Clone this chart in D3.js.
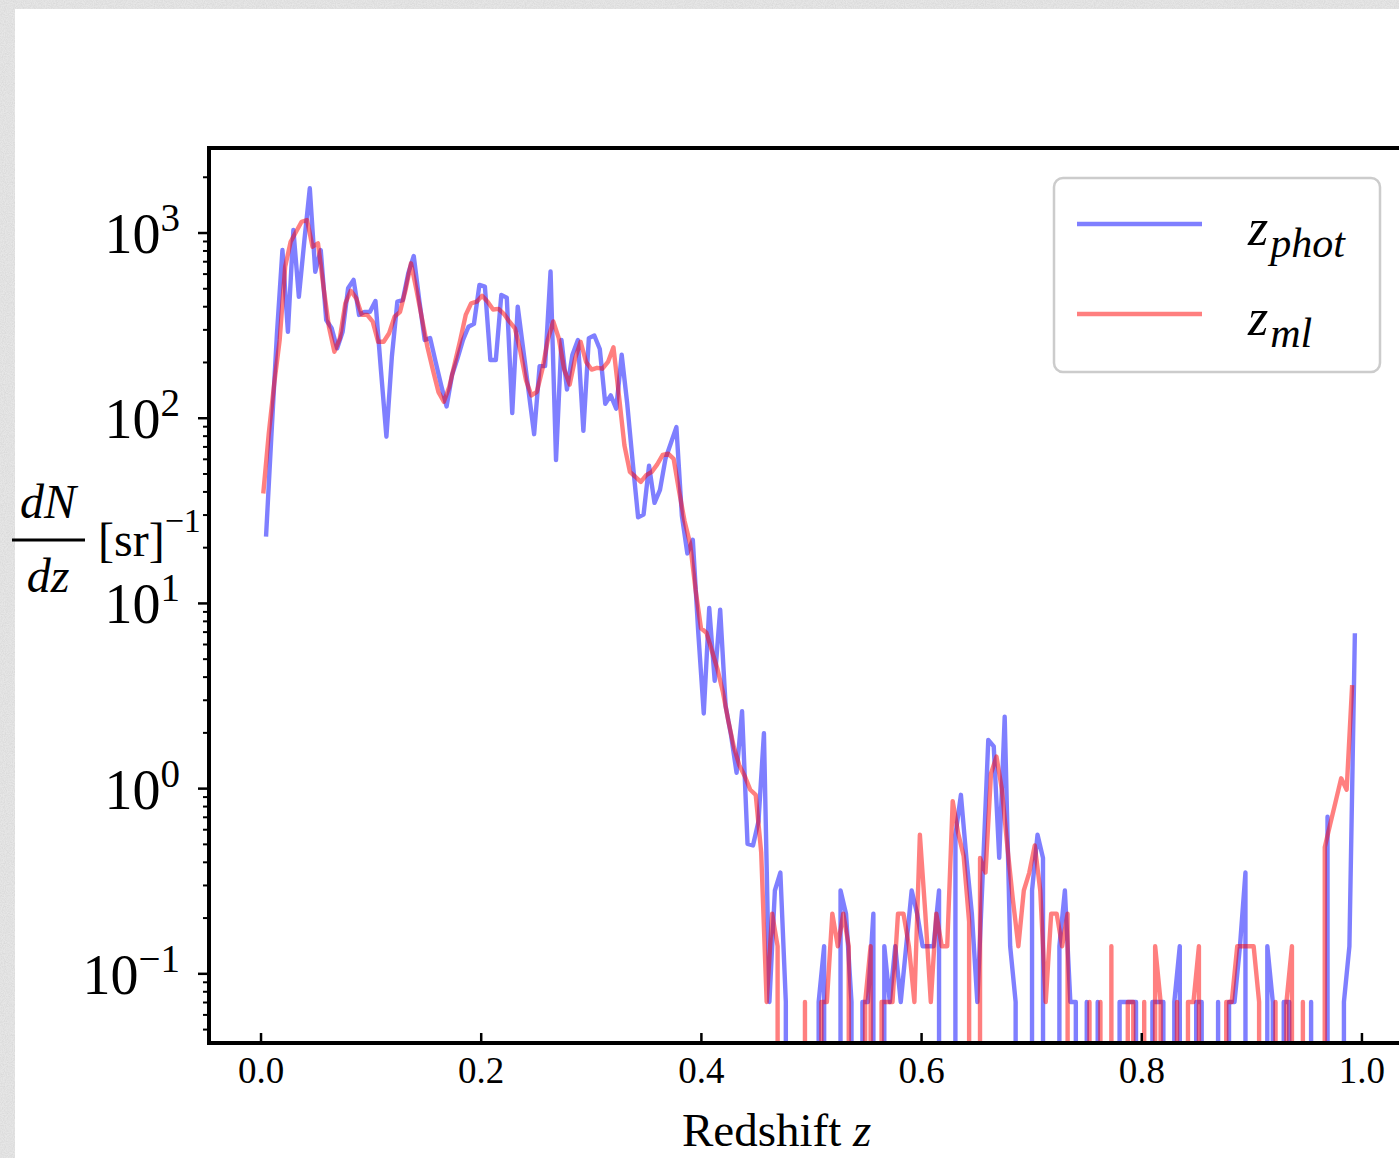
<!DOCTYPE html>
<html>
<head>
<meta charset="utf-8">
<script src="https://cdn.jsdelivr.net/npm/d3@7"></script>
<style>
    body { margin: 0; background: #fff; }
    svg text { font-family: "Liberation Serif", "DejaVu Serif", serif; fill: #000; }
</style>
</head>
<body>
<div id="chart"></div>
<script>
// Histogram bins (left/centre of each bin in z) - both series use 200 bins
const binStep = 0.00497;
const zPhotStart = 0.005;
const zMlStart = 0.0025;

// dN/dz [sr]^-1 for the photometric redshifts
const zPhot = [
    22.8, 82, 286, 804, 291, 1032, 450, 900, 1733, 614,
    804, 337, 304, 237, 291, 500, 555, 359, 373, 373,
    427, 181, 79, 214, 423, 432, 603, 747, 432, 263,
    269, 200, 150, 115, 170, 209, 263, 310, 321, 521,
    510, 205, 205, 460, 445, 106, 398, 235, 138, 81.5,
    190, 190, 616, 59, 263, 142, 219, 263, 85, 269,
    278, 235, 119, 132, 112, 219, 120, 58, 29, 30,
    55, 34.7, 40.8, 60, 73, 89, 29.6, 18.5, 21.9, 6.9,
    2.53, 9.4, 3.8, 9.2, 2.77, 1.92, 1.21, 2.6, 0.50, 0.49,
    0.66, 1.98, 0.07, 0.28, 0.35, 0.07, 0, 0, 0, 0,
    0, 0.07, 0.14, 0, 0, 0.28, 0.21, 0.07, 0, 0.07,
    0.07, 0.21, 0, 0.14, 0.07, 0.14, 0.07, 0.14, 0.28, 0.21,
    0.14, 0.14, 0.14, 0.28, 0, 0, 0.56, 0.92, 0.42, 0.21,
    0.07, 0.35, 1.82, 1.68, 0.42, 2.43, 0.14, 0.07, 0, 0,
    0.28, 0.56, 0.42, 0, 0, 0.14, 0.28, 0.07, 0.07, 0,
    0.07, 0, 0.07, 0, 0, 0, 0.07, 0.07, 0.07, 0.07,
    0, 0, 0.07, 0.07, 0.07, 0, 0.07, 0.14, 0, 0,
    0.07, 0.07, 0, 0, 0.07, 0, 0.07, 0.07, 0.14, 0.35,
    0, 0, 0, 0.14, 0.07, 0, 0.07, 0.07, 0, 0,
    0, 0.07, 0, 0, 0.7, 0, 0, 0.07, 0.14, 6.86
];

// dN/dz [sr]^-1 for the machine-learning redshifts
const zMl = [
    39, 82, 153, 263, 653, 892, 1010, 1143, 1167, 838,
    874, 510, 310, 227, 269, 415, 485, 441, 359, 359,
    330, 257, 257, 286, 351, 373, 489, 682, 489, 344,
    241, 181, 138, 122, 147, 197, 263, 359, 415, 423,
    455, 423, 384, 387, 363, 330, 304, 227, 160, 132,
    138, 182, 263, 331, 269, 182, 151, 209, 257, 200,
    182, 186, 184, 200, 240, 132, 71, 51, 48, 45,
    49, 51, 56, 63, 64, 60, 40, 27.6, 21, 11.8,
    7.3, 6.9, 5.5, 4.4, 3.3, 2.3, 1.67, 1.33, 1.16, 0.98,
    0.92, 0.45, 0.07, 0.21, 0.14, 0, 0, 0, 0, 0.07,
    0, 0, 0.07, 0.07, 0.21, 0.14, 0.21, 0.14, 0, 0,
    0.07, 0.14, 0, 0.07, 0.07, 0.07, 0.21, 0.21, 0.14, 0.07,
    0.56, 0.21, 0.07, 0.21, 0.14, 0.14, 0.85, 0.57, 0.43, 0.19,
    0, 0.42, 0.35, 1.2, 1.48, 0.98, 0.48, 0.25, 0.14, 0.28,
    0.35, 0.49, 0.28, 0.07, 0.21, 0.21, 0.14, 0.21, 0, 0,
    0, 0.07, 0, 0.07, 0, 0.14, 0, 0, 0.07, 0.07,
    0, 0.07, 0, 0.14, 0.07, 0, 0, 0.07, 0, 0.07,
    0.07, 0.14, 0, 0, 0, 0, 0.07, 0.07, 0.14, 0.14,
    0.14, 0.14, 0.07, 0, 0, 0.07, 0, 0.07, 0.14, 0,
    0.07, 0, 0, 0, 0.48, 0.64, 0.85, 1.13, 0.98, 3.6
];

const xTicks = [0.0, 0.2, 0.4, 0.6, 0.8, 1.0];
const yTickPowers = [-1, 0, 1, 2, 3];
const seriesLabels = ["phot", "ml"];
const seriesColors = ["blue", "red"];

class RedshiftChart {
    constructor(parentElement) {
        this.parentElement = parentElement;
        this.series = [
            { name: seriesLabels[0], color: seriesColors[0],
              values: zPhot.map((v, i) => ({ z: zPhotStart + i * binStep, v: v })) },
            { name: seriesLabels[1], color: seriesColors[1],
              values: zMl.map((v, i) => ({ z: zMlStart + i * binStep, v: v })) }
        ];
        this.initVis();
    }

    initVis() {
        let vis = this;

        vis.W = 1399;
        vis.H = 1158;
        vis.plot = { left: 209, top: 148, right: 1410, bottom: 1043 };

        vis.svg = d3.select(`#${vis.parentElement}`).append("svg")
            .attr("width", vis.W)
            .attr("height", vis.H);

        // paper-like border round the figure
        let defs = vis.svg.append("defs");
        let noise = defs.append("filter").attr("id", "paper")
            .attr("x", 0).attr("y", 0).attr("width", "100%").attr("height", "100%");
        noise.append("feTurbulence")
            .attr("type", "fractalNoise")
            .attr("baseFrequency", 0.9)
            .attr("numOctaves", 2)
            .attr("seed", 3);
        noise.append("feColorMatrix")
            .attr("type", "matrix")
            .attr("values", "0 0 0 0 0.55  0 0 0 0 0.55  0 0 0 0 0.55  0.7 0 0 0 -0.22");

        vis.svg.append("rect").attr("width", vis.W).attr("height", vis.H).attr("fill", "#e6e6e6");
        vis.svg.append("rect").attr("width", vis.W).attr("height", vis.H).attr("filter", "url(#paper)");
        vis.svg.append("rect")
            .attr("x", 15).attr("y", 9)
            .attr("width", vis.W - 15).attr("height", vis.H - 9)
            .attr("fill", "#fff");

        defs.append("clipPath").attr("id", "plot-clip")
            .append("rect")
            .attr("x", vis.plot.left).attr("y", vis.plot.top)
            .attr("width", vis.plot.right - vis.plot.left)
            .attr("height", vis.plot.bottom - vis.plot.top);

        // scales
        vis.x = d3.scaleLinear().domain([-0.0468, 1.0441]).range([vis.plot.left, vis.plot.right]);
        vis.y = d3.scaleLog().domain([0.04205, 2860]).range([vis.plot.bottom, vis.plot.top]);

        vis.updateVis();
    }

    updateVis() {
        let vis = this;
        let p = vis.plot;

        // lines (zero bins drop off the bottom like matplotlib's clipped log)
        let line = d3.line()
            .x(d => vis.x(d.z))
            .y(d => d.v > 0 ? vis.y(d.v) : p.bottom + 30000);

        let lines = vis.svg.append("g").attr("clip-path", "url(#plot-clip)");
        lines.selectAll(".series")
            .data(vis.series)
            .enter()
            .append("path")
            .attr("class", "series")
            .attr("d", d => line(d.values))
            .attr("fill", "none")
            .attr("stroke", d => d.color)
            .attr("stroke-opacity", 0.5)
            .attr("stroke-width", 4.4)
            .attr("stroke-linejoin", "round");

        // y axis: major and minor ticks (outward)
        let majors = yTickPowers.map(k => Math.pow(10, k));
        let minors = [];
        d3.range(-2, 4).forEach(k => {
            d3.range(2, 10).forEach(m => {
                let v = m * Math.pow(10, k);
                if (v >= vis.y.domain()[0] && v <= vis.y.domain()[1]) minors.push(v);
            });
        });

        let yMajor = vis.svg.append("g")
            .attr("transform", `translate(${p.left},0)`)
            .call(d3.axisLeft(vis.y).tickValues(majors).tickSize(11).tickFormat(""));
        let yMinor = vis.svg.append("g")
            .attr("transform", `translate(${p.left},0)`)
            .call(d3.axisLeft(vis.y).tickValues(minors).tickSize(6).tickFormat(""));
        yMajor.select(".domain").remove();
        yMinor.select(".domain").remove();
        yMajor.selectAll(".tick line").attr("stroke", "#000").attr("stroke-width", 2.5);
        yMinor.selectAll(".tick line").attr("stroke", "#000").attr("stroke-width", 2);

        // y tick labels 10^k
        let yLabels = vis.svg.append("g").selectAll(".ylab")
            .data(yTickPowers)
            .enter()
            .append("text")
            .attr("class", "ylab")
            .attr("x", 180)
            .attr("y", k => vis.y(Math.pow(10, k)) + 20.5)
            .attr("text-anchor", "end");
        yLabels.append("tspan").style("font-size", "56px").text("10");
        yLabels.append("tspan")
            .style("font-size", "39px")
            .attr("dy", -22)
            .text(k => k < 0 ? "\u2212" + Math.abs(k) : String(k));

        // x axis: ticks inward
        let xAxis = vis.svg.append("g")
            .attr("transform", `translate(0,${p.bottom})`)
            .call(d3.axisBottom(vis.x).tickValues(xTicks).tickSize(-10).tickFormat(d3.format(".1f")));
        xAxis.select(".domain").remove();
        xAxis.selectAll(".tick line").attr("stroke", "#000").attr("stroke-width", 2.5);
        xAxis.selectAll(".tick text")
            .attr("y", 40)
            .attr("dy", 0)
            .style("font-size", "37px")
            .style("font-family", "'Liberation Serif', serif");

        // spines
        let spine = vis.svg.append("g")
            .attr("fill", "none")
            .attr("stroke", "#000")
            .attr("stroke-width", 4);
        spine.append("rect")
            .attr("x", p.left).attr("y", p.top)
            .attr("width", p.right - p.left)
            .attr("height", p.bottom - p.top);

        // axis labels
        let xl = vis.svg.append("text")
            .attr("x", 682)
            .attr("y", 1146)
            .style("font-size", "47px");
        xl.append("tspan").text("Redshift ");
        xl.append("tspan").style("font-style", "italic").text("z");

        let yl = vis.svg.append("g");
        yl.append("text")
            .attr("x", 48).attr("y", 518)
            .attr("text-anchor", "middle")
            .style("font-size", "48px").style("font-style", "italic")
            .text("dN");
        yl.append("line")
            .attr("x1", 12).attr("x2", 85)
            .attr("y1", 540).attr("y2", 540)
            .attr("stroke", "#000").attr("stroke-width", 3);
        yl.append("text")
            .attr("x", 48).attr("y", 592)
            .attr("text-anchor", "middle")
            .style("font-size", "48px").style("font-style", "italic")
            .text("dz");
        let sr = yl.append("text")
            .attr("x", 98).attr("y", 556)
            .style("font-size", "48px");
        sr.append("tspan").text("[sr]");
        sr.append("tspan").attr("dy", -24).style("font-size", "34px").text("\u22121");

        // legend
        let legend = vis.svg.append("g");
        legend.append("rect")
            .attr("x", 1054).attr("y", 178)
            .attr("width", 326).attr("height", 194)
            .attr("rx", 9)
            .attr("fill", "#fff").attr("fill-opacity", 0.8)
            .attr("stroke", "#cccccc").attr("stroke-width", 2.5);

        let items = legend.selectAll(".item")
            .data(vis.series)
            .enter()
            .append("g")
            .attr("class", "item")
            .attr("transform", (d, i) => `translate(0,${224 + i * 90})`);
        items.append("line")
            .attr("x1", 1077).attr("x2", 1202)
            .attr("stroke", d => d.color)
            .attr("stroke-opacity", 0.5)
            .attr("stroke-width", 4.4);
        let lt = items.append("text")
            .attr("x", 1248)
            .attr("y", 21)
            .style("font-style", "italic");
        lt.append("tspan").style("font-size", "52px").text("z");
        lt.append("tspan")
            .attr("dx", 2).attr("dy", 12)
            .style("font-size", "42px")
            .text(d => d.name);
    }
}

new RedshiftChart("chart");
</script>
</body>
</html>
